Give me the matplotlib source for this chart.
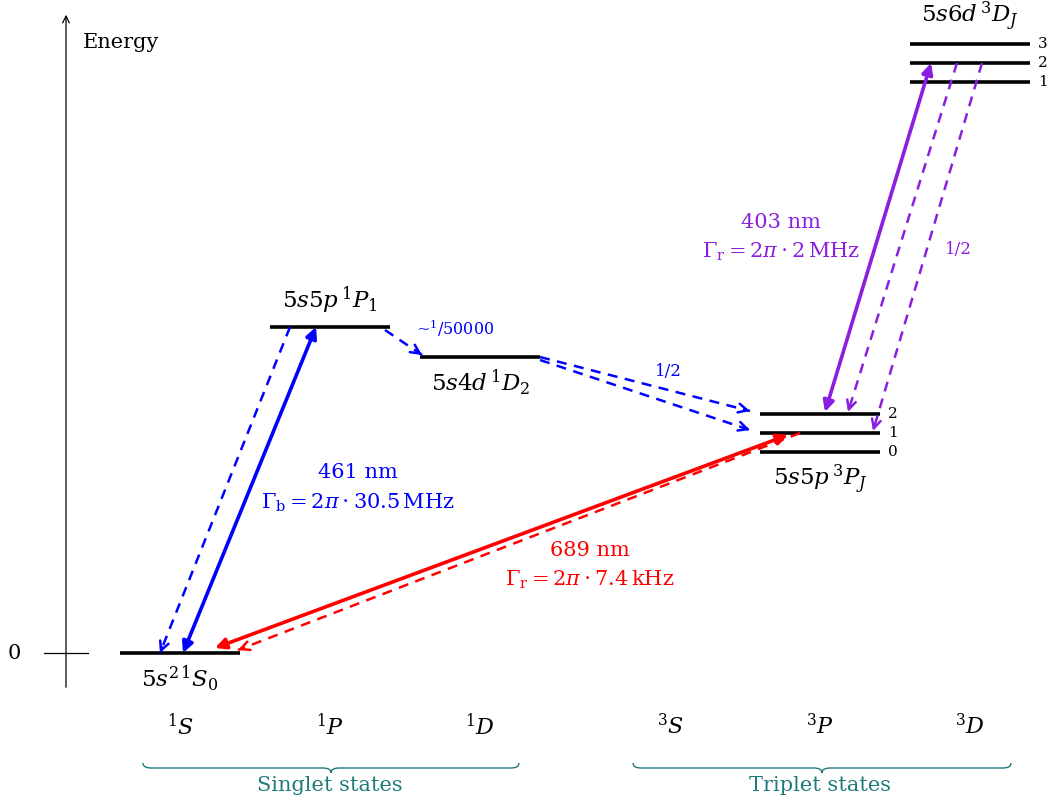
import matplotlib
matplotlib.use("Agg")
import matplotlib.pyplot as plt
from matplotlib.patches import FancyArrowPatch, PathPatch
from matplotlib.path import Path
import numpy as np

# Sr level scheme, energies in arbitrary units (0 = ground state)
columns = [r'$^1S$', r'$^1P$', r'$^1D$', r'$^3S$', r'$^3P$', r'$^3D$']
level_names = ['1S0', '1P1', '1D2', '3P0', '3P1', '3P2', '3D1', '3D2', '3D3']
level_col = [0, 1, 2, 4, 4, 4, 5, 5, 5]
level_energy = [0, 326, 296, 201, 220, 239, 571, 590, 609]

# term labels: (reference level, text, above?)
term_labels = [
    ('1S0', r'$5s^{2\,1}S_0$', False),
    ('1P1', r'$5s5p\,^1P_1$', True),
    ('1D2', r'$5s4d\,^1D_2$', False),
    ('3P0', r'$5s5p\,^3P_J$', False),
    ('3D3', r'$5s6d\,^3D_J$', True),
]
j_labels = {'3P0': '0', '3P1': '1', '3P2': '2', '3D1': '1', '3D2': '2', '3D3': '3'}

BLUE = '#0000ff'
RED = '#ff0000'
PURPLE = '#8a1fe0'
TEAL = '#1f7a7a'

plt.rcParams['font.family'] = ['DejaVu Serif']
plt.rcParams['mathtext.fontset'] = 'dejavuserif'

fig = plt.figure(figsize=(10.57, 8.05), dpi=100)
ax = fig.add_axes([0, 0, 1, 1])
ax.set_xlim(0, 1057)
ax.set_ylim(653 - 805, 653)
ax.axis('off')


def col_x(i):
    return 180 + 150 * i + (40 if i >= 3 else 0)


E = dict(zip(level_names, level_energy))
C = dict(zip(level_names, level_col))
half = 60

# levels
for name in level_names:
    xc = col_x(C[name])
    ax.plot([xc - half, xc + half], [E[name], E[name]], color='k', lw=2.6,
            solid_capstyle='butt', zorder=3)
    if name in j_labels:
        ax.text(xc + half + 8, E[name], j_labels[name], fontsize=11,
                ha='left', va='center')

for name, txt, above in term_labels:
    xc = col_x(C[name])
    if above:
        ax.text(xc, E[name] + 11, txt, fontsize=16.5, ha='center', va='bottom')
    else:
        ax.text(xc, E[name] - 11, txt, fontsize=16.5, ha='center', va='top')

# energy axis
ax.add_patch(FancyArrowPatch((66, 653 - 690), (66, 653 - 12), arrowstyle='->',
                             mutation_scale=12, lw=0.9, color='k'))
ax.plot([44, 88], [0, 0], color='k', lw=0.9)
ax.text(14, 0, '0', fontsize=15, ha='center', va='center')
ax.text(83, 653 - 43, 'Energy', fontsize=15, ha='left', va='center')

# column labels
for i, lab in enumerate(columns):
    ax.text(col_x(i), 653 - 727, lab, fontsize=16, ha='center', va='center')


def pt(name, dx):
    return (col_x(C[name]) + dx, E[name])


def solid(p0, p1, color):
    ax.add_patch(FancyArrowPatch(p0, p1, arrowstyle='<|-|>', mutation_scale=16,
                                 lw=2.6, color=color, shrinkA=0, shrinkB=0,
                                 zorder=4))


def dashed(p0, p1, color):
    p0 = np.array(p0, float)
    p1 = np.array(p1, float)
    ax.plot([p0[0], p1[0]], [p0[1], p1[1]], color=color, lw=1.8,
            ls=(0, (4, 3)), zorder=4)
    d = (p1 - p0) / np.hypot(*(p1 - p0))
    ax.add_patch(FancyArrowPatch(tuple(p1 - 6 * d), tuple(p1), arrowstyle='->',
                                 mutation_scale=16, lw=1.8, color=color,
                                 shrinkA=0, shrinkB=0, zorder=4))


# 461 nm
solid(pt('1S0', 3), pt('1P1', -14), BLUE)
dashed(pt('1P1', -40), pt('1S0', -20), BLUE)
dashed((col_x(1) + 55, E['1P1'] - 3), (col_x(2) - 58, E['1D2'] + 2), BLUE)
dashed(pt('1D2', 60), (col_x(4) - 70, E['3P2'] + 3), BLUE)
dashed((col_x(2) + 60, E['1D2'] - 3), (col_x(4) - 70, E['3P1'] + 3), BLUE)
# 689 nm
solid((col_x(0) + 35, 5), (col_x(4) - 32, E['3P1'] - 2), RED)
dashed(pt('3P1', -20), (col_x(0) + 58, 3), RED)
# 403 nm
solid((col_x(4) + 5, E['3P2'] + 2), pt('3D2', -39), PURPLE)
dashed(pt('3D2', -13), (col_x(4) + 28, E['3P2'] + 2), PURPLE)
dashed(pt('3D2', 12), (col_x(4) + 53, E['3P1'] + 2), PURPLE)

# transition annotations
ax.text(358, 653 - 472, '461 nm', color=BLUE, fontsize=15, ha='center', va='center')
ax.text(358, 653 - 503, r'$\Gamma_\mathrm{b} = 2\pi\cdot 30.5\,\mathrm{MHz}$',
        color=BLUE, fontsize=15, ha='center', va='center')
ax.text(590, 653 - 550, '689 nm', color=RED, fontsize=15, ha='center', va='center')
ax.text(590, 653 - 580, r'$\Gamma_\mathrm{r} = 2\pi\cdot 7.4\,\mathrm{kHz}$',
        color=RED, fontsize=15, ha='center', va='center')
ax.text(781, 653 - 222, '403 nm', color=PURPLE, fontsize=15, ha='center', va='center')
ax.text(781, 653 - 252, r'$\Gamma_\mathrm{r} = 2\pi\cdot 2\,\mathrm{MHz}$',
        color=PURPLE, fontsize=15, ha='center', va='center')
ax.text(455, 653 - 328, r'~$^1$/50000', color=BLUE, fontsize=11.5, ha='center', va='center')
ax.text(668, 653 - 372, '1/2', color=BLUE, fontsize=12, ha='center', va='center')
ax.text(958, 653 - 249, '1/2', color=PURPLE, fontsize=12, ha='center', va='center')


def brace(x0, x1, y, color):
    xm = (x0 + x1) / 2
    h = 5
    verts = [(x0, y + h), (x0, y), (x0 + 8, y), (xm - 8, y), (xm, y), (xm, y - h),
             (xm, y), (xm + 8, y), (x1 - 8, y), (x1, y), (x1, y + h)]
    codes = [Path.MOVETO, Path.CURVE3, Path.CURVE3, Path.LINETO, Path.CURVE3,
             Path.CURVE3, Path.CURVE3, Path.CURVE3, Path.LINETO, Path.CURVE3,
             Path.CURVE3]
    ax.add_patch(PathPatch(Path(verts, codes), fill=False, ec=color, lw=1.0))


brace(col_x(0) - 37, col_x(2) + 39, 653 - 768, TEAL)
brace(col_x(3) - 37, col_x(5) + 41, 653 - 768, TEAL)
ax.text((col_x(0) + col_x(2)) / 2, 653 - 785, 'Singlet states', color=TEAL,
        fontsize=15, ha='center', va='center')
ax.text((col_x(3) + col_x(5)) / 2, 653 - 785, 'Triplet states', color=TEAL,
        fontsize=15, ha='center', va='center')

fig.savefig('out.png', dpi=100)
